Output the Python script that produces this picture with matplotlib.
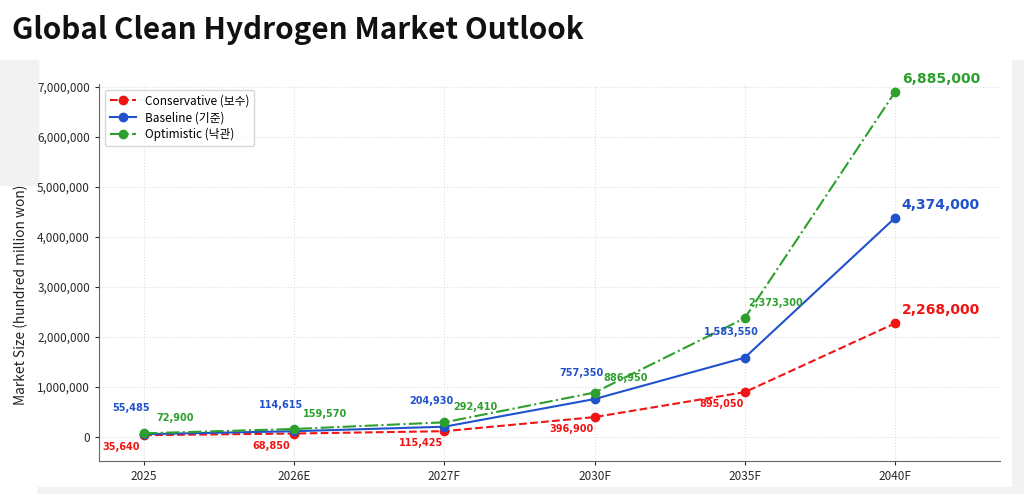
import matplotlib
matplotlib.use('Agg')
import matplotlib.pyplot as plt
from matplotlib.patches import Rectangle
from matplotlib.ticker import FuncFormatter

plt.rcParams['font.family'] = ['Noto Sans CJK KR', 'DejaVu Sans']

years = ['2025', '2026E', '2027F', '2030F', '2035F', '2040F']
conservative = [35640, 68850, 115425, 396900, 895050, 2268000]
baseline = [55485, 114615, 204930, 757350, 1583550, 4374000]
optimistic = [72900, 159570, 292410, 886950, 2373300, 6885000]

RED = '#f01414'
BLUE = '#2152cc'
GREEN = '#2ca02c'

fig = plt.figure(figsize=(10.24, 4.94), dpi=100)
fig.patch.set_facecolor('white')

# screenshot grey margins around the chart panel
W, H = 1024, 494
def grey(x0, y0, x1, y1):
    fig.patches.append(Rectangle((x0 / W, 1 - y1 / H), (x1 - x0) / W, (y1 - y0) / H,
                                 transform=fig.transFigure, color='#f2f2f2', zorder=-5))
grey(1012, 60, 1024, 494)
grey(38, 487, 1024, 494)
grey(0, 60, 38, 185)

fig.text(12 / W, 1 - 30 / H, 'Global Clean Hydrogen Market Outlook', fontsize=21.4,
         fontweight='bold', va='center', ha='left', color='#111111')

ax = fig.add_axes([99 / W, 1 - 461 / H, (1000 - 99) / W, (461 - 84) / H])
ax.set_zorder(2)
x = list(range(len(years)))

ax.plot(x, conservative, color=RED, ls='--', lw=1.5, marker='o', ms=6, label='Conservative (보수)')
ax.plot(x, baseline, color=BLUE, ls='-', lw=1.5, marker='o', ms=6, label='Baseline (기준)')
ax.plot(x, optimistic, color=GREEN, ls='-.', lw=1.5, marker='o', ms=6, label='Optimistic (낙관)')

ax.set_xlim(-0.3, 5.7)
ax.set_ylim(-480000, 7050000)
ax.set_xticks(x)
ax.set_xticklabels(years)
ax.set_yticks(range(0, 7000001, 1000000))
ax.yaxis.set_major_formatter(FuncFormatter(lambda v, p: f'{int(v):,}'))
ax.tick_params(labelsize=8.5, colors='#2a2a2a', length=3)
ax.set_ylabel('Market Size (hundred million won)', fontsize=9.9, color='#222222')
ax.yaxis.set_label_coords(-0.079, 0.44)

ax.grid(True, color='#dddddd', ls=':', lw=0.8)
ax.set_axisbelow(True)
for s in ['top', 'right']:
    ax.spines[s].set_visible(False)
for s in ['left', 'bottom']:
    ax.spines[s].set_color('#666666')

small = dict(fontsize=7, fontweight='bold', family='DejaVu Sans', ha='center', va='center',
             textcoords='offset pixels', annotation_clip=False)
series = [(conservative, RED, (-23, -12)), (baseline, BLUE, (-13, 26)), (optimistic, GREEN, (31, 15))]
for vals, col, off in series:
    for i, v in enumerate(vals):
        if i == len(vals) - 1:
            ax.annotate(f'{v:,}', (i, v), xytext=(46, 13), textcoords='offset pixels',
                        fontsize=10, fontweight='bold', family='DejaVu Sans',
                        ha='center', va='center', color=col, annotation_clip=False)
        else:
            ax.annotate(f'{v:,}', (i, v), xytext=off, color=col, **small)

ax.legend(loc='upper left', fontsize=8.5, frameon=True, edgecolor='#cccccc',
          handlelength=2.2, borderpad=0.4, labelspacing=0.3)

fig.savefig('out.png', dpi=100, facecolor=fig.get_facecolor())
